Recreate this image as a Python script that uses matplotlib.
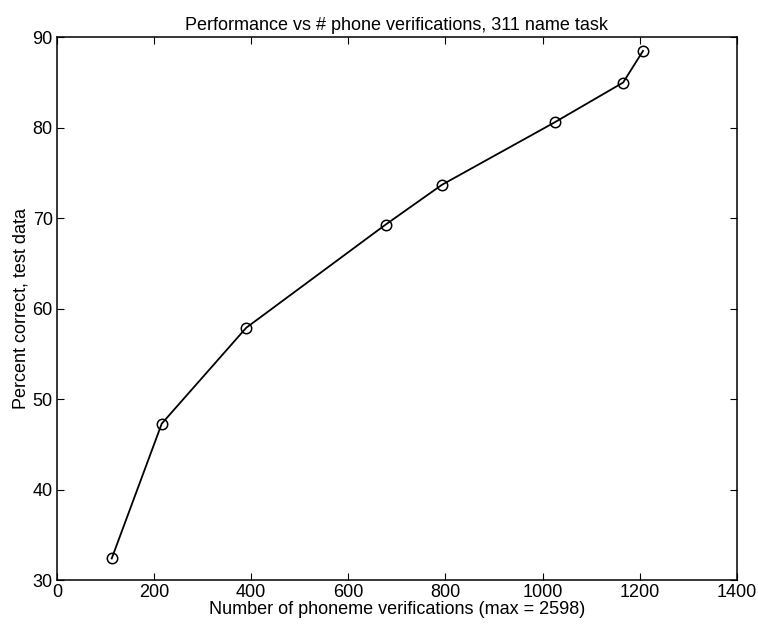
import matplotlib.pyplot as plt

plt.rcParams['font.family'] = ['Liberation Sans', 'DejaVu Sans']

# number of phoneme verifications vs percent correct
n_verif = [113, 216, 390, 677, 793, 1025, 1166, 1207]
pct_correct = [32.4, 47.3, 57.9, 69.3, 73.7, 80.6, 85.0, 88.5]

fig = plt.figure(figsize=(7.58, 6.32), dpi=100)
ax = fig.add_axes([0.075, 0.082, 0.897, 0.859])

ax.plot(n_verif, pct_correct, color='black', linewidth=1.3, marker='o',
        markersize=7.5, markerfacecolor='none', markeredgecolor='black',
        markeredgewidth=1.1)

ax.set_xlim(0, 1400)
ax.set_ylim(30, 90)
ax.set_xticks(range(0, 1401, 200))
ax.set_yticks(range(30, 91, 10))
ax.tick_params(direction='in', top=True, right=True, labelsize=13, length=5,
               colors='black')
ax.tick_params(axis='x', pad=3)
ax.tick_params(axis='y', pad=3)
for s in ax.spines.values():
    s.set_linewidth(1.1)

ax.set_title('Performance vs # phone verifications, 311 name task', fontsize=13, pad=5)
ax.set_xlabel('Number of phoneme verifications (max = 2598)', fontsize=13, labelpad=0)
ax.set_ylabel('Percent correct, test data', fontsize=13, labelpad=2)

fig.savefig('out.png', dpi=100)
